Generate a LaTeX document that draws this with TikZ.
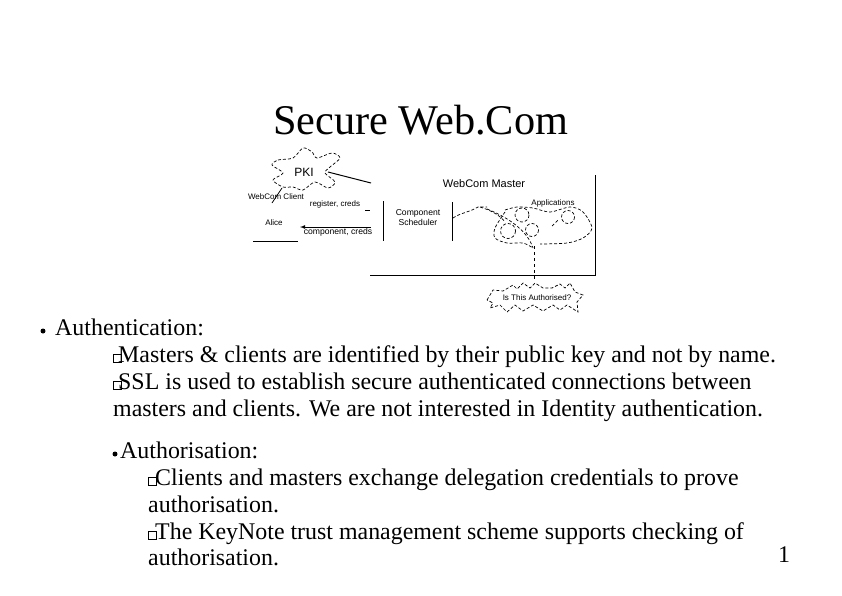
\documentclass[tikz,border=0pt]{standalone}
\usepackage{fontspec}
\setmainfont{Liberation Serif}
\newfontfamily\labelfont{Liberation Sans}
\tikzset{
  body/.style = {anchor = base west, inner sep = 0, font = \fontsize{23.9}{27}\selectfont},
  lbl/.style = {inner sep = 0, font = \labelfont\fontsize{8}{9}\selectfont},
  dot/.style = {circle, fill, inner sep = 0, minimum size = 5},
  tick/.style = {draw, inner sep = 0, minimum size = 7.5, line width = 0.5},
  wobble/.style = {dash pattern = on 3 off 2, line width = 0.7},
}
\begin{document}
\begin{tikzpicture}[x = 1pt, y = -1pt]
  \useasboundingbox (0,0) rectangle (842,595);
  \node [anchor = base west, inner sep = 0, font = \fontsize{42.3}{46}\selectfont] (title) at (273,134) {Secure Web.Com};

  % left half
  \draw [wobble] plot [smooth cycle] coordinates {(272,165) (278,160) (293,158) (303,148) (312,152) (317,158) (332,153) (340,158) (330,167) (325,173) (335,182) (328,188) (315,182) (303,190) (293,187) (283,187) (273,180) (283,173)};
  \node [lbl, font = \labelfont\fontsize{12}{13}\selectfont] (pki) at (304,172) {PKI};
  \node [lbl] (client) at (276,197) {WebCom Client};
  \node [lbl] (creds1) at (335,204) {register, creds};
  \node [lbl] (alice) at (274,223) {Alice};
  \node [lbl, font = \labelfont\fontsize{8.6}{9}\selectfont] (creds2) at (338,232) {component, creds};
  \coordinate (pkistart) at (328,172);
  \coordinate (pkiend) at (371,183);
  \coordinate (cloudfoot) at (282,188);
  \coordinate (clientfoot) at (272,203);
  \draw [line width = 1] (pkistart) -- (pkiend);
  \draw [line width = 0.8] (cloudfoot) -- (clientfoot);
  \coordinate (up1) at (365,210);
  \coordinate (up2) at (370,210);
  \draw [line width = 1] (up1) -- (up2);
  \coordinate (low1) at (371,227);
  \coordinate (low2) at (300,227);
  \draw [-latex, line width = 0.8] (low1) -- (low2);
  \coordinate (al1) at (253,241);
  \coordinate (al2) at (298,241);
  \draw [line width = 0.8] (al1) -- (al2);

  % master box
  \node [lbl, font = \labelfont\fontsize{11}{12}\selectfont] (master) at (484,184) {WebCom Master};
  \node [lbl, font = \labelfont\fontsize{8.6}{10}\selectfont, align = center] (sched) at (418,218) {Component\\Scheduler};
  \coordinate (s1) at (383,201);
  \coordinate (s2) at (383,241);
  \coordinate (s3) at (452,202);
  \coordinate (s4) at (452,241);
  \draw [line width = 0.8] (s1) -- (s2);
  \draw [line width = 0.8] (s3) -- (s4);
  \coordinate (m1) at (370,275.5);
  \coordinate (m2) at (595.5,275.5);
  \coordinate (m3) at (595.5,175);
  \draw [line width = 0.9] (m1) -- (m2) -- (m3);

  % applications
  \node [lbl] (apps) at (553,203) {Applications};
  \draw [wobble] (453,218) .. controls (460,213) and (470,212) .. (478,207) -- (487,207);
  \draw [wobble] (480,207) .. controls (490,210) and (500,215) .. (505,222);
  \draw [wobble] (487,209) .. controls (510,218) and (528,232) .. (533,248);
  \draw [wobble] plot [smooth] coordinates {(505,210) (517,207) (533,208) (550,212) (570,207) (583,212) (592,228) (583,238) (567,243) (540,244)};
  \draw [wobble] plot [smooth] coordinates {(505,212) (495,228) (495,238) (507,243) (523,243) (533,248)};
  \draw [wobble] (508,231) circle [radius = 7.5];
  \draw [wobble] (522,215) circle [radius = 7];
  \draw [wobble] (532,230) circle [radius = 6.5];
  \draw [wobble] (568,217) circle [radius = 6.5];
  \draw [wobble] (552,226) -- (558,220);
  \coordinate (down1) at (534,246);
  \coordinate (down2) at (534,281);
  \draw [dashed, line width = 0.8] (down1) -- (down2);
  \node [lbl] (authd) at (537,298) {Is This Authorised?};
  \draw [wobble] (487,300) -- (493,290) -- (503,291) -- (513,285) -- (517,289) -- (523,283) -- (530,288) -- (535,283) -- (543,288) -- (552,288) -- (560,284) -- (565,288) -- (570,283) -- (575,292) -- (583,295) -- (577,302) -- (578,312) -- (567,305) -- (560,310) -- (553,305) -- (543,311) -- (533,305) -- (523,311) -- (515,305) -- (507,312) -- (500,305) -- (490,308) -- (493,303) -- cycle;

  % text
  \node [dot] (d1) at (43,331) {};
  \node [body] (a0) at (55,335) {Authentication:};
  \node [tick] (t1) at (117,358) {};
  \node [body] (a1) at (118,362) {Masters \& clients are identified by their public key and not by name.};
  \node [tick] (t2) at (117,385) {};
  \node [body] (a2) at (118,389) {SSL is used to establish secure authenticated connections between};
  \node [body] (a3) at (113,416) {masters and clients. We are not interested in Identity authentication.};
  \node [dot] (d2) at (115,454) {};
  \node [body] (b0) at (120,458) {Authorisation:};
  \node [tick] (t3) at (152,481) {};
  \node [body] (b1) at (155,485) {Clients and masters exchange delegation credentials to prove};
  \node [body] (b2) at (148,512) {authorisation.};
  \node [tick] (t4) at (152,535) {};
  \node [body] (b3) at (155,539) {The KeyNote trust management scheme supports checking of};
  \node [body] (b4) at (148,565) {authorisation.};
  \node [body] (page) at (778,562) {1};
\end{tikzpicture}
\end{document}
